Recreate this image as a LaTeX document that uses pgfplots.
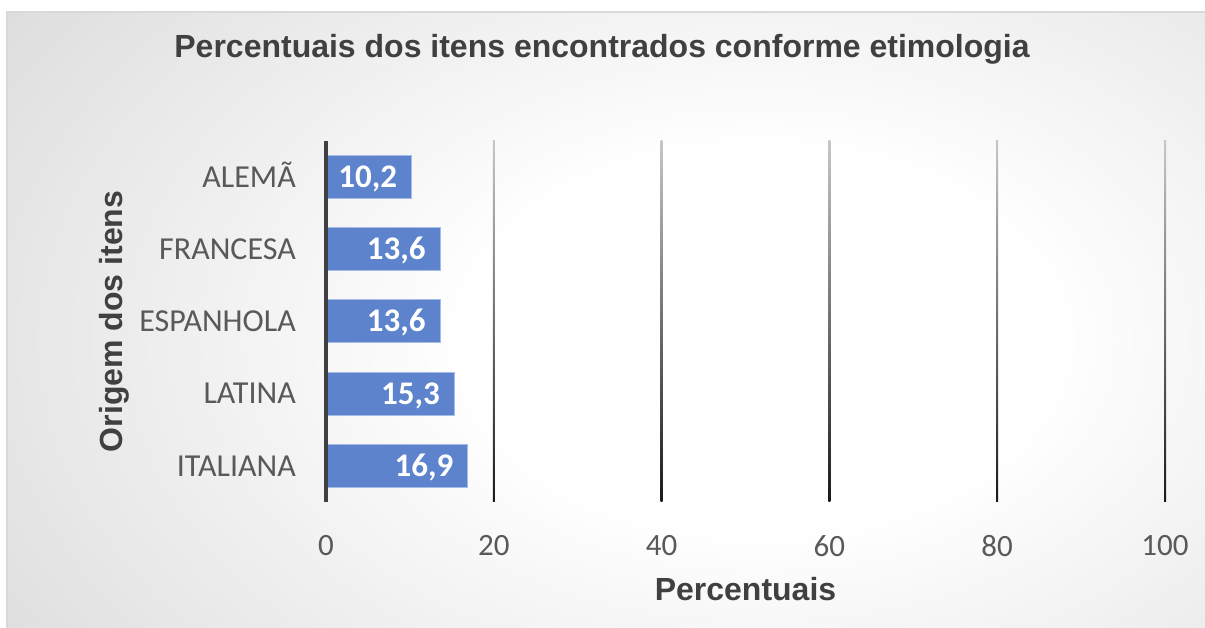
\documentclass[border=0pt]{standalone}
\usepackage{pgfplots}
\pgfplotsset{compat=1.18}
\usepackage{fontspec}
\setmainfont{Carlito}
\newfontfamily\headfont{Liberation Sans}

\definecolor{barblue}{RGB}{92,131,204}
\definecolor{baredge}{RGB}{165,188,230}
\definecolor{ticktext}{RGB}{89,89,89}
\definecolor{headtext}{RGB}{64,64,64}
\pgfdeclareradialshading{bgshade}{\pgfpoint{0bp}{0bp}}{color(0bp)=(white); color(9bp)=(white); color(46bp)=(black!25); color(50bp)=(black!25)}

\begin{document}
\begin{tikzpicture}
\path[use as bounding box] (0,0) rectangle (1205bp,628bp);
\fill[white] (0,0) rectangle (1205bp,628bp);
% chart area with radial gradient
\begin{scope}
  \clip (7bp,0) rectangle (1205bp,616bp);
  \fill[black!25] (7bp,0) rectangle (1205bp,616bp);
  \shade[shading=bgshade] (-40bp,-232bp) rectangle (1560bp,808bp);
\end{scope}
\draw[black!15, line width=1.5bp] (7bp,-2bp) -- (7bp,616bp) -- (1207bp,616bp);

\begin{axis}[
    at={(326bp,126bp)}, anchor=south west,
    scale only axis, width=839bp, height=361bp,
    clip=false,
    xmin=0, xmax=100, ymin=-0.5, ymax=4.5,
    xbar, bar width=43bp,
    xtick={0,20,...,100},
    ytick={0,...,4},
    yticklabels={ITALIANA,LATINA,ESPANHOLA,FRANCESA,ALEMÃ},
    axis line style={draw=none},
    major tick length=0pt,
    tick style={draw=none},
    /pgf/number format/assume math mode=true,
    tick label style={text=ticktext, inner sep=0pt},
    xticklabel style={yshift=-33bp, font=\fontsize{31bp}{36bp}\selectfont},
    yticklabel style={xshift=-30bp, text height=20.5bp, text depth=0pt, font=\fontsize{32bp}{36bp}\selectfont},
    title={Percentuais dos itens encontrados conforme etimologia},
    title style={at={(axis description cs:0.329,1.216)}, anchor=base,
        font=\headfont\bfseries\fontsize{32bp}{38bp}\selectfont, text=headtext},
    xlabel={Percentuais},
    xlabel style={at={(axis description cs:0.5,-0.2715)}, anchor=base,
        font=\headfont\bfseries\fontsize{32bp}{38bp}\selectfont, text=headtext},
    ylabel={Origem dos itens},
    every axis y label/.style={at={(axis description cs:-0.242,0.5)}, rotate=90, anchor=base,
        font=\headfont\bfseries\fontsize{32bp}{38bp}\selectfont, text=headtext},
    point meta=x,
    nodes near coords={\pgfmathprintnumber[fixed,fixed zerofill,precision=1,use comma]{\pgfplotspointmeta}},
    nodes near coords style={anchor=east, xshift=-14bp, inner sep=0pt, text=white,
        font=\bfseries\fontsize{33bp}{38bp}\selectfont, text height=21bp, text depth=0pt},
]
% gridlines fading from light grey at the top to black at the bottom
\pgfplotsinvokeforeach{20,40,60,80,100}{
  \path[top color=black!22, bottom color=black!90]
    ([xshift=-1bp]axis cs:#1,-0.5) rectangle ([xshift=1bp]axis cs:#1,4.5);
}
\addplot[fill=barblue, draw=baredge, line width=1bp] coordinates {
    (16.9,0) (15.3,1) (13.6,2) (13.6,3) (10.2,4)
};
\draw[line width=3.5bp, headtext] (axis cs:0,-0.5) -- (axis cs:0,4.5);
\end{axis}
\end{tikzpicture}
\end{document}
